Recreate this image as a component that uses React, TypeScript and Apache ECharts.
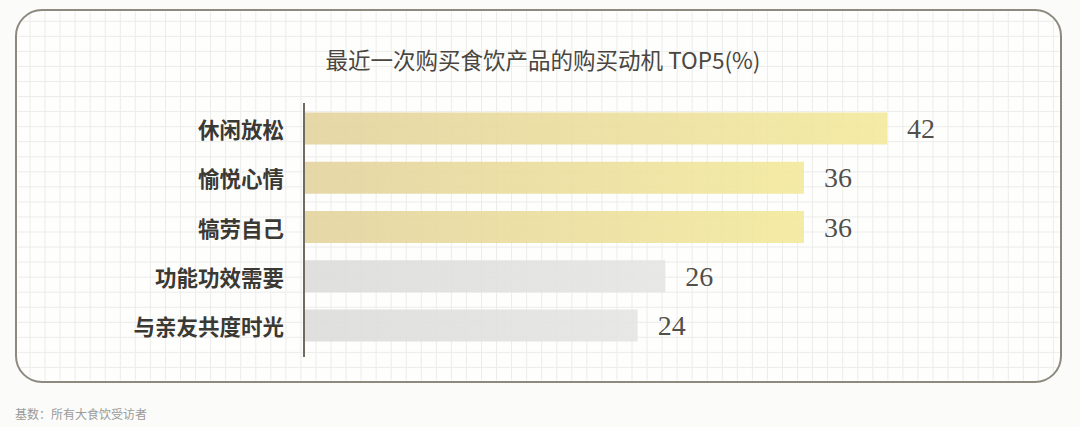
import React, { useEffect, useRef } from "react";
import * as echarts from "echarts";

const categories = ["休闲放松", "愉悦心情", "犒劳自己", "功能功效需要", "与亲友共度时光"];
const values = [42, 36, 36, 26, 24];
const titleText = "最近一次购买食饮产品的购买动机 TOP5(%)";
const footnote = "基数：所有大食饮受访者";
const HIGHLIGHT_COUNT = 3;

const BOX = { x: 16, y: 10, w: 1045, h: 372, r: 26 };
const GRID_STEP = 15.05;
const GRID_X0 = 30;
const GRID_Y0 = 21.3;

function buildGraphPaper() {
  const els: any[] = [];
  const x0 = BOX.x + 1.5, y0 = BOX.y + 1.5, x1 = BOX.x + BOX.w - 1.5, y1 = BOX.y + BOX.h - 1.5;
  const r = BOX.r - 1.5;
  const inset = (p: number, lo: number, hi: number) => {
    let d = 0;
    if (p < lo + r) d = lo + r - p;
    else if (p > hi - r) d = p - (hi - r);
    if (d <= 0) return 0;
    if (d >= r) return r;
    return r - Math.sqrt(r * r - d * d);
  };
  const style = { stroke: "#ececeb", lineWidth: 1 };
  for (let x = GRID_X0; x < x1; x += GRID_STEP) {
    const dy = inset(x, x0, x1);
    els.push({ type: "line", silent: true, z: -10, shape: { x1: x, y1: y0 + dy, x2: x, y2: y1 - dy }, style });
  }
  for (let y = GRID_Y0; y < y1; y += GRID_STEP) {
    const dx = inset(y, y0, y1);
    els.push({ type: "line", silent: true, z: -10, shape: { x1: x0 + dx, y1: y, x2: x1 - dx, y2: y }, style });
  }
  return els;
}

export default function App() {
  const ref = useRef<HTMLDivElement>(null);
  useEffect(() => {
    if (!ref.current) return;
    const chart = echarts.init(ref.current, null, { renderer: "svg" });
    const gold = new echarts.graphic.LinearGradient(0, 0, 1, 0, [
      { offset: 0, color: "#e3d39e" },
      { offset: 1, color: "#f3e99c" },
    ]);
    const gray = new echarts.graphic.LinearGradient(0, 0, 1, 0, [
      { offset: 0, color: "#dcdcdb" },
      { offset: 1, color: "#e5e5e4" },
    ]);
    chart.setOption({
      animation: false,
      backgroundColor: "#fbfbf9",
      title: {
        text: titleText,
        left: 538,
        textAlign: "center",
        top: 43,
        textStyle: {
          fontFamily: "Noto Sans CJK SC",
          fontSize: 22.5,
          fontWeight: "normal",
          color: "#4a463f",
        },
      },
      grid: { left: 305, top: 104, width: 693, height: 246, containLabel: false },
      xAxis: {
        type: "value",
        min: 0,
        max: 50,
        show: false,
      },
      yAxis: {
        type: "category",
        data: categories,
        inverse: true,
        axisLine: { show: false },
        axisTick: { show: false },
        splitLine: { show: false },
        axisLabel: {
          margin: 21,
          fontFamily: "Noto Sans CJK SC",
          fontSize: 21.5,
          fontWeight: "bold",
          color: "#3b3934",
        },
      },
      series: [
        {
          type: "bar",
          barWidth: 32,
          z: 2,
          data: values.map((v, i) => ({
            value: v,
            itemStyle: { color: i < HIGHLIGHT_COUNT ? gold : gray, opacity: 0.9 },
          })),
          label: {
            show: true,
            position: "right",
            distance: 20,
            fontFamily: "Liberation Serif",
            fontSize: 28,
            color: "#3a3833",
          },
        },
      ],
      graphic: [
        {
          type: "rect",
          silent: true,
          z: -20,
          shape: { x: BOX.x, y: BOX.y, width: BOX.w, height: BOX.h, r: BOX.r },
          style: { fill: "#fefefd", stroke: "none" },
        },
        ...buildGraphPaper(),
        {
          type: "rect",
          silent: true,
          z: 50,
          shape: { x: BOX.x, y: BOX.y, width: BOX.w, height: BOX.h, r: BOX.r },
          style: { fill: "none", stroke: "#8e897f", lineWidth: 2 },
        },
        {
          type: "line",
          silent: true,
          z: 50,
          shape: { x1: 304, y1: 103, x2: 304, y2: 357 },
          style: { stroke: "#6f6b63", lineWidth: 2 },
        },
        {
          type: "text",
          silent: true,
          x: 15,
          y: 413,
          style: {
            text: footnote,
            fontFamily: "Noto Sans CJK SC",
            fontSize: 12,
            fill: "#9a9a98",
            verticalAlign: "middle",
          },
        },
      ],
    });
    return () => chart.dispose();
  }, []);
  return (
    <div
      ref={ref}
      style={{ position: "fixed", left: 0, top: 0, width: 1080, height: 427 }}
    />
  );
}
